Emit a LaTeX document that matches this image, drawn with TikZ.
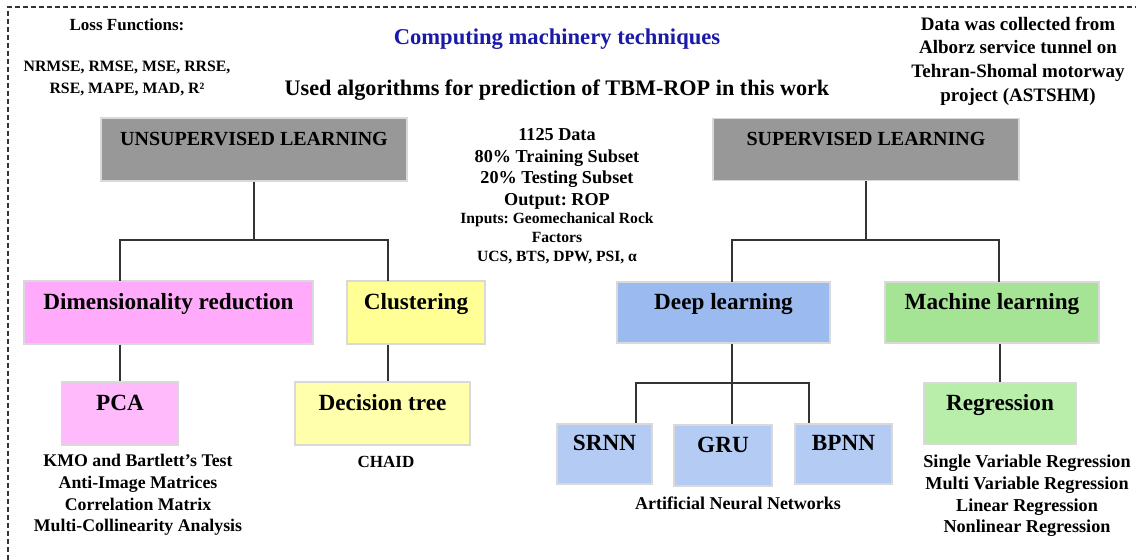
\documentclass[tikz,border=0pt]{standalone}
\usepackage{fontspec}
\setmainfont{Liberation Serif}
\usepackage{xcolor}
\usetikzlibrary{positioning}
\frenchspacing

\definecolor{boxgray}{RGB}{152,152,152}
\definecolor{dimpink}{RGB}{255,170,250}
\definecolor{pcapink}{RGB}{255,186,251}
\definecolor{clustyel}{RGB}{255,255,150}
\definecolor{treeyel}{RGB}{255,255,172}
\definecolor{deepblue}{RGB}{155,186,240}
\definecolor{annblue}{RGB}{180,204,244}
\definecolor{mlgreen}{RGB}{165,228,148}
\definecolor{reggreen}{RGB}{184,237,170}
\definecolor{titleblue}{RGB}{26,26,168}

\tikzset{
  box/.style={draw=white!85!black, line width=0.6pt, inner sep=0pt, text depth=11pt,
    font=\bfseries\fontsize{11.6}{13}\selectfont},
  topbox/.style={box, fill=boxgray, font=\bfseries\fontsize{10}{12}\selectfont},
  link/.style={draw=black!80, line width=0.6pt},
  note/.style={align=center, font=\bfseries\fontsize{8.5}{11.5}\selectfont}
}

\begin{document}
\begin{tikzpicture}[x=0.5pt, y=-0.5pt]
  \useasboundingbox (0,0) rectangle (1136,560);

  % dashed frame (cut at right and bottom)
  \draw[black!80, dash pattern=on 2.5pt off 1.5pt, line width=0.6pt] (8,560) -- (8,7) -- (1136,7);

  % headings and notes
  \node[note] (losshead) at (127,25) {Loss Functions:};
  \node[note, font=\bfseries\fontsize{7.9}{11}\selectfont] (losslist) at (127,78) {NRMSE, RMSE, MSE, RRSE,\\RSE, MAPE, MAD, R²};
  \node[note, text=titleblue, font=\bfseries\fontsize{11.3}{13}\selectfont] (title) at (557,39) {Computing machinery techniques};
  \node[note, font=\bfseries\fontsize{11.1}{13}\selectfont] (subtitle) at (557,90) {Used algorithms for prediction of TBM-ROP in this work};
  \node[note, font=\bfseries\fontsize{9.5}{11.8}\selectfont] (datanote) at (1018,61) {Data was collected from\\Alborz service tunnel on\\Tehran-Shomal motorway\\project (ASTSHM)};

  % data description in the middle
  \node[note, font=\bfseries\fontsize{9.1}{10.8}\selectfont] (dataset) at (557,169) {1125 Data\\80\% Training Subset\\20\% Testing Subset\\Output: ROP};
  \node[note, font=\bfseries\fontsize{7.8}{9.6}\selectfont] (inputs) at (557,238) {Inputs: Geomechanical Rock\\Factors\\UCS, BTS, DPW, PSI, α};

  % top level
  \node[topbox, minimum width=153pt, minimum height=31.5pt] (unsup) at (254,149.5) {UNSUPERVISED LEARNING};
  \node[topbox, minimum width=153pt, minimum height=31pt] (sup) at (866,149.5) {SUPERVISED LEARNING};

  % unsupervised branch
  \node[box, fill=dimpink, minimum width=144.5pt, minimum height=31.5pt] (dimred) at (168.5,312.5) {Dimensionality reduction};
  \node[box, fill=clustyel, minimum width=69pt, minimum height=31.5pt] (clust) at (416,312.5) {Clustering};
  \node[box, fill=pcapink, minimum width=58.5pt, minimum height=31.5pt] (pca) at (120,413.5) {PCA};
  \node[box, fill=treeyel, minimum width=87.5pt, minimum height=31.5pt] (dtree) at (382.5,413.5) {Decision tree};

  % supervised branch
  \node[box, fill=deepblue, minimum width=106.5pt, minimum height=30.5pt] (deep) at (723.5,312.5) {Deep learning};
  \node[box, fill=mlgreen, minimum width=107pt, minimum height=30.5pt] (mach) at (992,312.5) {Machine learning};
  \node[box, fill=annblue, minimum width=47.5pt, minimum height=30pt] (srnn) at (604.5,454) {SRNN};
  \node[box, fill=annblue, minimum width=49pt, minimum height=30.5pt] (gru) at (723,455.5) {GRU};
  \node[box, fill=annblue, minimum width=48.5pt, minimum height=30pt] (bpnn) at (843.5,454) {BPNN};
  \node[box, fill=reggreen, minimum width=76pt, minimum height=30.5pt] (regr) at (1000,413.5) {Regression};

  % lists under the leaves
  \node[note, font=\bfseries\fontsize{8.9}{10.8}\selectfont] (pcalist) at (138,495) {KMO and Bartlett's Test\\Anti-Image Matrices\\Correlation Matrix\\Multi-Collinearity Analysis};
  \node[note] (chaid) at (386,462) {CHAID};
  \node[note, font=\bfseries\fontsize{9}{11}\selectfont] (ann) at (738,503) {Artificial Neural Networks};
  \node[note, font=\bfseries\fontsize{9.1}{10.8}\selectfont] (reglist) at (1027,496) {Single Variable Regression\\Multi Variable Regression\\Linear Regression\\Nonlinear Regression};

  % bus points and entry points
  \coordinate (ubus) at (254,240);
  \coordinate (sbus) at (866,240);
  \coordinate (dbus) at (732,383);
  \coordinate (dimin) at (120,281);
  \coordinate (clin) at (388,281);
  \coordinate (deepin) at (732,282);
  \coordinate (machin) at (999,282);

  % connectors
  \draw[link] (unsup.south) |- (dimin |- ubus) -- (dimin);
  \draw[link] (unsup.south) |- (clin |- ubus) -- (clin);
  \draw[link] (sup.south) |- (deepin |- sbus) -- (deepin);
  \draw[link] (sup.south) |- (machin |- sbus) -- (machin);
  \draw[link] (pca.north |- dimred.south) -- (pca.north);
  \draw[link] (clin |- clust.south) -- (clin |- dtree.north);
  \draw[link] (dbus |- deep.south) -- (dbus);
  \draw[link] (dbus) -| (srnn.north -| 636,0);
  \draw[link] (dbus) -| (bpnn.north -| 809,0);
  \draw[link] (dbus) -- (dbus |- gru.north);
  \draw[link] (regr.north |- mach.south) -- (regr.north);
\end{tikzpicture}
\end{document}
